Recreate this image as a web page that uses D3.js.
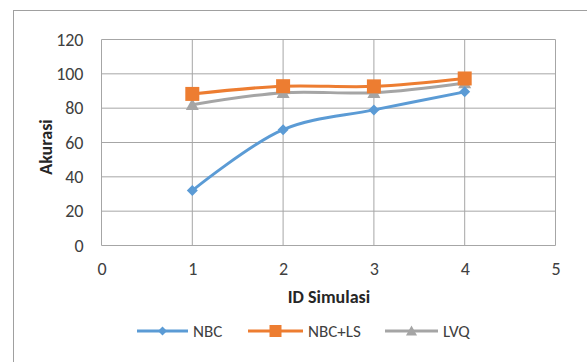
<!DOCTYPE html>
<html><head><meta charset="utf-8">
<script src="https://cdn.jsdelivr.net/npm/d3@7"></script>
<style>body{margin:0;background:#fff}svg{display:block}</style>
</head><body>
<script>
const ids = [1, 2, 3, 4];
const seriesNames = ["NBC", "NBC+LS", "LVQ"];
const nbc = [32, 67.5, 79, 89.5];
const nbcLs = [88.3, 92.8, 92.7, 97.3];
const lvq = [82, 89, 89, 94.7];
const xTicks = [0, 1, 2, 3, 4, 5];
const yTicks = [0, 20, 40, 60, 80, 100, 120];
const colors = ["#5b9bd5", "#ed7d31", "#a5a5a5"];
const allSeries = [nbc, nbcLs, lvq];

const W = 587, H = 362;
const svg = d3.select("body").append("svg").attr("width", W).attr("height", H);
const font = "Carlito, Lato, 'Liberation Sans', sans-serif";

svg.append("rect").attr("x", 13.5).attr("y", 10.5).attr("width", 600).attr("height", 400)
  .attr("fill", "none").attr("stroke", "#a0a0a0").attr("stroke-width", 1);

const L = 101.5, R = 555.5, T = 39.5, B = 245.5;
const x = d3.scaleLinear().domain([0, 5]).range([L, R]);
const y = d3.scaleLinear().domain([0, 120]).range([B, T]);

// marker shapes (s = half-size)
function marker(k, s) {
  if (k === 0) return `M0,${-s}L${s},0L0,${s}L${-s},0Z`;
  if (k === 1) return `M${-s},${-s}H${s}V${s}H${-s}Z`;
  return `M0,${-s}L${s},${s * 0.8}H${-s}Z`;
}

svg.append("g").selectAll("line").data(yTicks).join("line")
  .attr("x1", L).attr("x2", R).attr("y1", d => y(d)).attr("y2", d => y(d))
  .attr("stroke", "#a6a6a6").attr("stroke-width", 1);
svg.append("g").selectAll("line").data(xTicks).join("line")
  .attr("y1", T).attr("y2", B).attr("x1", d => x(d)).attr("x2", d => x(d))
  .attr("stroke", "#a6a6a6").attr("stroke-width", 1);

const yAxis = svg.append("g").attr("transform", `translate(${L},0)`)
  .call(d3.axisLeft(y).tickValues(yTicks).tickSize(0).tickPadding(18).tickFormat(d3.format("d")));
const xAxis = svg.append("g").attr("transform", `translate(0,${B})`)
  .call(d3.axisBottom(x).tickValues(xTicks).tickSize(0).tickPadding(17).tickFormat(d3.format("d")));
[yAxis, xAxis].forEach(g => {
  g.select(".domain").remove();
  g.selectAll("text").attr("font-family", font).attr("font-size", 18).attr("fill", "#404040");
});

svg.append("text").attr("x", 329).attr("y", 303).attr("text-anchor", "middle")
  .attr("font-family", font).attr("font-size", 18).attr("font-weight", "bold").attr("fill", "#262626")
  .text("ID Simulasi");
svg.append("text").attr("transform", "translate(52,147) rotate(-90)").attr("text-anchor", "middle")
  .attr("font-family", font).attr("font-size", 18).attr("font-weight", "bold").attr("fill", "#262626")
  .text("Akurasi");

const line = d3.line().x((d, i) => x(ids[i])).y(d => y(d)).curve(d3.curveCatmullRom.alpha(0.5));
const order = [2, 1, 0];
order.forEach(k => {
  svg.append("path").datum(allSeries[k]).attr("d", line)
    .attr("fill", "none").attr("stroke", colors[k]).attr("stroke-width", 3)
    .attr("stroke-linejoin", "round").attr("stroke-linecap", "round");
});
const sizes = [5.5, 7, 6.5];
order.forEach(k => {
  svg.append("g").selectAll("path").data(allSeries[k]).join("path")
    .attr("transform", (d, i) => `translate(${x(ids[i])},${y(d)})`)
    .attr("d", marker(k, sizes[k]))
    .attr("fill", colors[k]);
});

const legX = [137, 248, 385];
const legW = [51, 55, 53];
const lg = svg.append("g");
seriesNames.forEach((name, k) => {
  const g = lg.append("g").attr("transform", `translate(${legX[k]},331)`);
  g.append("line").attr("x1", 0).attr("x2", legW[k]).attr("stroke", colors[k]).attr("stroke-width", 3);
  g.append("path").attr("transform", `translate(${legW[k] / 2},0)`)
    .attr("d", marker(k, sizes[k] - 1)).attr("fill", colors[k]);
  g.append("text").attr("x", legW[k] + 5).attr("y", 6).attr("font-family", font).attr("font-size", 17)
    .attr("fill", "#404040").text(name);
});
</script>
</body></html>
